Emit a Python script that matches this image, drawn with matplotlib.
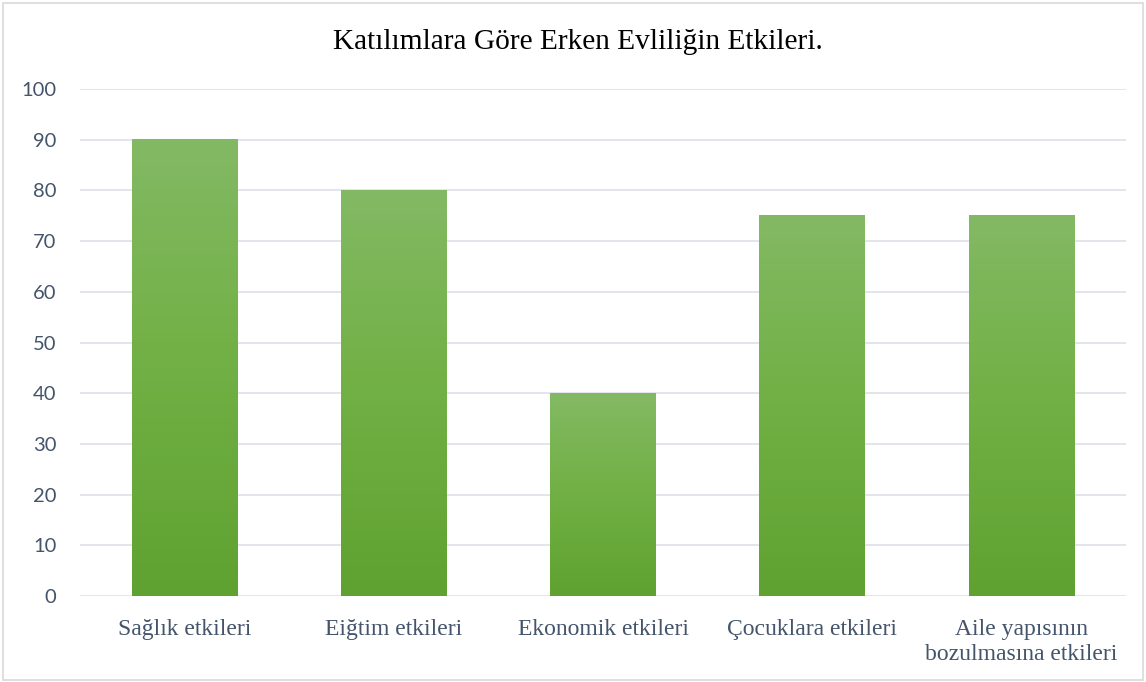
import matplotlib
matplotlib.use("Agg")
import matplotlib.pyplot as plt
import numpy as np
from matplotlib.colors import LinearSegmentedColormap
from matplotlib.patches import Rectangle

categories = ["Sağlık etkileri", "Eiğtim etkileri", "Ekonomik etkileri",
              "Çocuklara etkileri", "Aile yapısının\nbozulmasına etkileri"]
values = [90, 80, 40, 75, 75]
yticks = [0, 10, 20, 30, 40, 50, 60, 70, 80, 90, 100]
title = "Katılımlara Göre Erken Evliliğin Etkileri."

fig = plt.figure(figsize=(11.46, 6.82), dpi=100)
ax = fig.add_axes([80/1146, 1-596/682, 1046/1146, (596-89)/682])

cmap = LinearSegmentedColormap.from_list("g", ["#5fa231", "#71b044", "#83b964"])
grad = np.linspace(0, 1, 256).reshape(-1, 1)

x = np.arange(len(categories))
bw = 0.505
bars = ax.bar(x, values, width=bw, color="none", zorder=3)
for b in bars:
    x0, y0 = b.get_x(), b.get_y()
    w, h = b.get_width(), b.get_height()
    ax.imshow(grad, cmap=cmap, extent=[x0, x0 + w, y0, y0 + h], origin="lower",
              aspect="auto", zorder=3, interpolation="bicubic")

ax.set_xlim(-0.5, len(categories) - 0.5)
ax.set_ylim(0, 100)
ax.set_yticks(yticks)
ax.yaxis.grid(True, color="#dfe3ea", linewidth=1.3, zorder=0)
ax.set_axisbelow(True)
for s in ax.spines.values():
    s.set_visible(False)
ax.tick_params(axis="both", length=0)
ax.tick_params(axis="y", pad=17)
ax.tick_params(axis="x", pad=16.5)
ax.set_xticks(x)
ax.set_xticklabels(categories, family="Liberation Serif", fontsize=17, color="#44546a",
                   linespacing=1.28, va="top")
for lbl in ax.get_yticklabels():
    lbl.set_family("Lato")
    lbl.set_fontsize(14.5)
    lbl.set_color("#44546a")

fig.text(578/1146, 1-42/682, title, family="Liberation Serif", fontsize=21.2,
         color="black", ha="center", va="center")

fig.patches.append(Rectangle((3/1146, 2/682), 1140/1146, 677/682, transform=fig.transFigure,
                             fill=False, edgecolor="#d9d9d9", linewidth=1.2))

fig.savefig("out.png", dpi=100)
